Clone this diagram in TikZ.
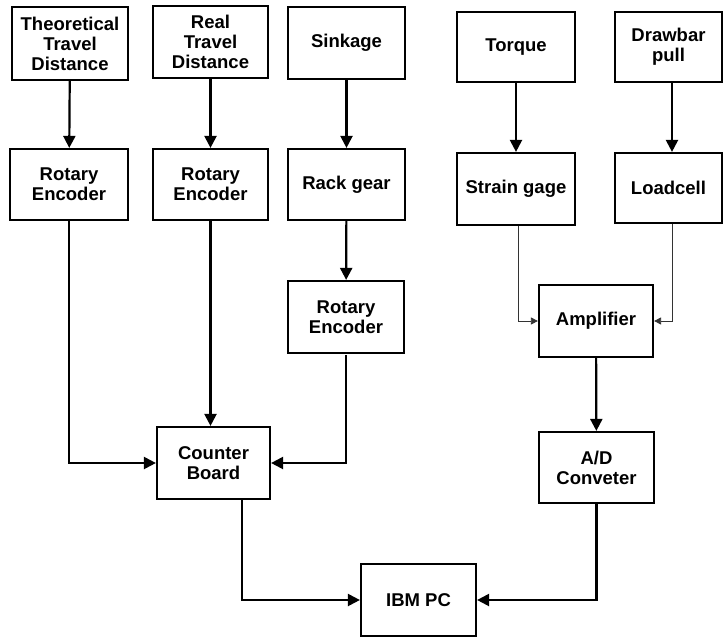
\documentclass[tikz,border=0pt]{standalone}
\usepackage{fontspec}
\setmainfont{Liberation Sans}
\usetikzlibrary{arrows.meta}
\tikzset{
  box/.style={draw=black, line width=2.2pt, rectangle, inner sep=0pt, align=center,
    font=\fontsize{18.5}{20}\selectfont\bfseries},
  conn/.style={line width=2.2pt, -{Triangle[length=12pt,width=12pt]}},
  thin conn/.style={line width=0.8pt, draw=black!80, -{Triangle[length=7pt,width=7pt]}},
}
\begin{document}
\begin{tikzpicture}[x=1pt,y=-1pt]
\useasboundingbox (0,0) rectangle (724,638);
% row 1
\node[box, minimum width=116pt, minimum height=73pt] (th) at (70,43.5) {Theoretical\\Travel\\Distance};
\node[box, minimum width=115pt, minimum height=72pt] (real) at (210.5,42) {Real\\Travel\\Distance};
\node[box, minimum width=117pt, minimum height=72pt] (sink) at (346.5,43) {Sinkage};
\node[box, minimum width=118pt, minimum height=70pt] (torq) at (516,47) {Torque};
\node[box, minimum width=107pt, minimum height=70pt] (drw) at (668.5,47) {Drawbar\\pull};
% row 2
\node[box, minimum width=118pt, minimum height=71pt] (re1) at (69,184.5) {Rotary\\Encoder};
\node[box, minimum width=115pt, minimum height=71pt] (re2) at (210.5,184.5) {Rotary\\Encoder};
\node[box, minimum width=117pt, minimum height=71pt] (rack) at (346.5,184.5) {Rack gear};
\node[box, minimum width=118pt, minimum height=72pt] (sg) at (516,189) {Strain gage};
\node[box, minimum width=107pt, minimum height=70pt] (lc) at (668.5,188) {Loadcell};
% row 3
\node[box, minimum width=116pt, minimum height=72pt] (re3) at (346,317) {Rotary\\Encoder};
\node[box, minimum width=114pt, minimum height=72pt] (amp) at (596,321) {Amplifier};
% row 4
\node[box, minimum width=113pt, minimum height=72pt] (cb) at (213.5,463) {Counter\\Board};
\node[box, minimum width=115pt, minimum height=71pt] (ad) at (596.5,467.5) {A/D\\Conveter};
% row 5
\node[box, minimum width=115pt, minimum height=72pt] (pc) at (418.5,600) {IBM PC};
% connectors
\draw[conn] (th) -- (re1);
\draw[conn] (real) -- (re2);
\draw[conn] (sink) -- (rack);
\draw[conn] (torq) -- (sg);
\draw[conn] ([xshift=3.5pt]drw.south) -- ([xshift=3.5pt]lc.north);
\draw[conn] (rack) -- (re3);
\draw[conn] (re1.south) |- (cb.west);
\draw[conn] (re2.south) -- (re2.south |- cb.north);
\draw[conn] ([yshift=-1pt]re3.south) |- (cb.east);
\draw[thin conn] ([xshift=2pt]sg.south) |- (amp.west);
\draw[thin conn] ([xshift=3.5pt]lc.south) |- (amp.east);
\draw[conn] (amp) -- (ad);
\draw[conn] ([xshift=28.5pt]cb.south) |- (pc.west);
\draw[conn] (ad.south) |- (pc.east);
\end{tikzpicture}
\end{document}
